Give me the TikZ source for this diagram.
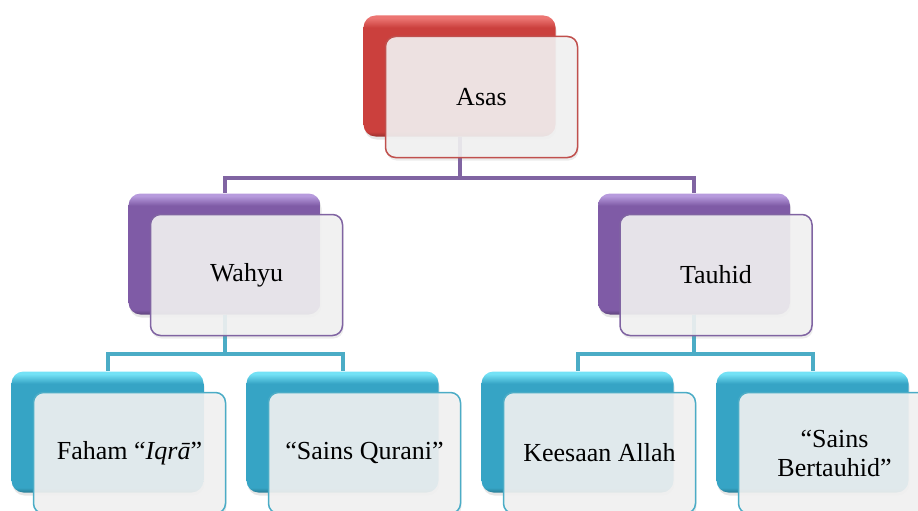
\documentclass[tikz,border=0pt]{standalone}
\usepackage{fontspec}
\setmainfont{Liberation Serif}
\usetikzlibrary{shadows}

\definecolor{RedBox}{HTML}{CB403D}
\definecolor{RedTop}{HTML}{EC7572}
\definecolor{RedLine}{HTML}{C0504D}
\definecolor{PurpleBox}{HTML}{7F5BA6}
\definecolor{PurpleTop}{HTML}{B79BDD}
\definecolor{PurpleLine}{HTML}{8064A2}
\definecolor{CyanBox}{HTML}{36A4C5}
\definecolor{CyanTop}{HTML}{74E2F6}
\definecolor{CyanLine}{HTML}{4BACC6}

% bevel: warna rata, sorotan tipis di atas
\pgfdeclareverticalshading{Redbevel}{100bp}{color(0bp)=(RedBox!75!black); color(25bp)=(RedBox!75!black);
    color(27bp)=(RedBox); color(70bp)=(RedBox); color(74bp)=(RedTop); color(100bp)=(RedTop)}
\pgfdeclareverticalshading{Purplebevel}{100bp}{color(0bp)=(PurpleBox!75!black); color(25bp)=(PurpleBox!75!black);
    color(27bp)=(PurpleBox); color(70bp)=(PurpleBox); color(74bp)=(PurpleTop); color(100bp)=(PurpleTop)}
\pgfdeclareverticalshading{Cyanbevel}{100bp}{color(0bp)=(CyanBox!75!black); color(25bp)=(CyanBox!75!black);
    color(27bp)=(CyanBox); color(70bp)=(CyanBox); color(74bp)=(CyanTop); color(100bp)=(CyanTop)}

\begin{document}
\begin{tikzpicture}[
    x=1pt, y=-1pt,
    font=\fontsize{26}{29}\selectfont,
    backbox/.style={rounded corners=12pt, minimum width=192pt, minimum height=121pt,
        shading=#1bevel,
        drop shadow={opacity=0.2, shadow xshift=1pt, shadow yshift=-3pt}},
    frontbox/.style={draw=#1Line, line width=1.5pt, rounded corners=10pt, align=center,
        minimum width=192pt, minimum height=121pt, fill=white!95!black,
        fill opacity=0.9, text opacity=1,
        drop shadow={opacity=0.15, shadow xshift=1pt, shadow yshift=-3pt}},
    link/.style={line width=4pt, draw=#1Line}
]
    \clip (0,0) rectangle (918,511);

    % --- Kotak belakang ---
    \node[backbox=Red] (asasbg) at (459.5, 76) {};
    \node[backbox=Purple] (wahyubg) at (224.5, 254) {};
    \node[backbox=Purple] (tauhidbg) at (694, 254) {};
    \node[backbox=Cyan] (fahambg) at (107.5, 432) {};
    \node[backbox=Cyan] (quranibg) at (342.5, 432) {};
    \node[backbox=Cyan] (keesaanbg) at (577.5, 432) {};
    \node[backbox=Cyan] (bertauhidbg) at (812.5, 432) {};

    % --- Garis penghubung ---
    \draw[link=Purple] (asasbg.south) -- ++(0,41) -| (wahyubg.north);
    \draw[link=Purple] (asasbg.south) -- ++(0,41) -| (tauhidbg.north);
    \draw[link=Cyan] (wahyubg.south) -- ++(0,39) -| (fahambg.north);
    \draw[link=Cyan] (wahyubg.south) -- ++(0,39) -| (quranibg.north);
    \draw[link=Cyan] (tauhidbg.south) -- ++(0,39) -| (keesaanbg.north);
    \draw[link=Cyan] (tauhidbg.south) -- ++(0,39) -| (bertauhidbg.north);

    % --- Kotak depan ---
    \node[frontbox=Red] (asas) at (481.5, 97) {Asas};
    \node[frontbox=Purple] (wahyu) at (246.5, 275) {Wahyu};
    \node[frontbox=Purple] (tauhid) at (716, 275) {Tauhid};
    \node[frontbox=Cyan] (faham) at (129.5, 453) {Faham “\textit{Iqrā}”};
    \node[frontbox=Cyan] (qurani) at (364.5, 453) {“Sains Qurani”};
    \node[frontbox=Cyan] (keesaan) at (599.5, 453) {Keesaan Allah};
    \node[frontbox=Cyan] (bertauhid) at (834.5, 453) {“Sains\\Bertauhid”};

\end{tikzpicture}
\end{document}
